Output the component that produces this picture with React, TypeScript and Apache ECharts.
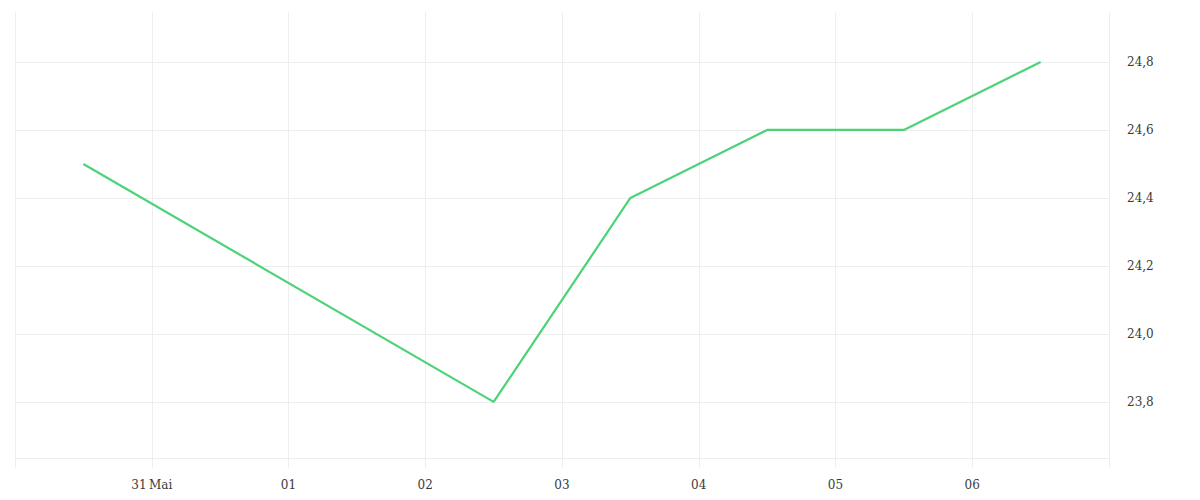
import React, { useEffect, useRef } from "react";
import * as echarts from "echarts";

// Data
const startDate = "2024-05-30T00:00:00Z";
const endDate = "2024-06-07T00:00:00Z";
const pointDates = [
  "2024-05-30T12:00:00Z",
  "2024-06-02T12:00:00Z",
  "2024-06-03T12:00:00Z",
  "2024-06-04T12:00:00Z",
  "2024-06-05T12:00:00Z",
  "2024-06-06T12:00:00Z",
];
const pointValues = [24.5, 23.8, 24.4, 24.6, 24.6, 24.8];
// x tick labels, one per day from 30 May to 07 Jun
const xTickLabels = ["", "31\u2009Mai", "01", "02", "03", "04", "05", "06", ""];
const yMin = 23.635;
const yMax = 24.947;

const DAY = 86400000;
const t0 = Date.parse(startDate);
const toDay = (s: string) => (Date.parse(s) - t0) / DAY;

export default function App() {
  const ref = useRef<HTMLDivElement>(null);
  useEffect(() => {
    if (!ref.current) return;
    const chart = echarts.init(ref.current, undefined, { renderer: "svg" });
    const gridColor = "#eeeeee";
    const font = "'DejaVu Serif', serif";
    chart.setOption({
      animation: false,
      backgroundColor: "#ffffff",
      grid: { left: 15, right: 91, top: 12, bottom: 42, containLabel: false },
      xAxis: {
        type: "value",
        min: 0,
        max: toDay(endDate),
        interval: 1,
        axisLine: { show: true, lineStyle: { color: gridColor, width: 1 } },
        axisTick: { show: true, length: 10, lineStyle: { color: gridColor, width: 1 } },
        splitLine: { show: true, lineStyle: { color: gridColor, width: 1 } },
        axisLabel: {
          margin: 21,
          color: "#3a3a3a",
          fontFamily: font,
          fontSize: 12,
          formatter: (v: number) => xTickLabels[Math.round(v)] ?? "",
        },
      },
      yAxis: {
        type: "value",
        position: "right",
        min: yMin,
        max: yMax,
        splitNumber: 6,
        minInterval: 0.2,
        maxInterval: 0.2,
        axisLine: { show: false },
        axisTick: { show: false },
        splitLine: {
          show: true,
          showMinLine: false,
          showMaxLine: false,
          lineStyle: { color: gridColor, width: 1 },
        },
        axisLabel: {
          showMinLabel: false,
          showMaxLabel: false,
          margin: 18,
          lineHeight: 12,
          padding: [7, 0, 0, 0],
          color: "#3a3a3a",
          fontFamily: font,
          fontSize: 12,
          formatter: (v: number) => v.toFixed(1).replace(".", ","),
        },
      },
      series: [
        {
          type: "line",
          data: pointDates.map((d, i) => [toDay(d), pointValues[i]]),
          showSymbol: false,
          symbol: "none",
          lineStyle: { color: "#4dd377", width: 2.2 },
          itemStyle: { color: "#4dd377" },
        },
      ],
    });
    return () => chart.dispose();
  }, []);
  return (
    <div
      ref={ref}
      style={{ position: "absolute", left: 0, top: 0, width: 1200, height: 500 }}
    />
  );
}
